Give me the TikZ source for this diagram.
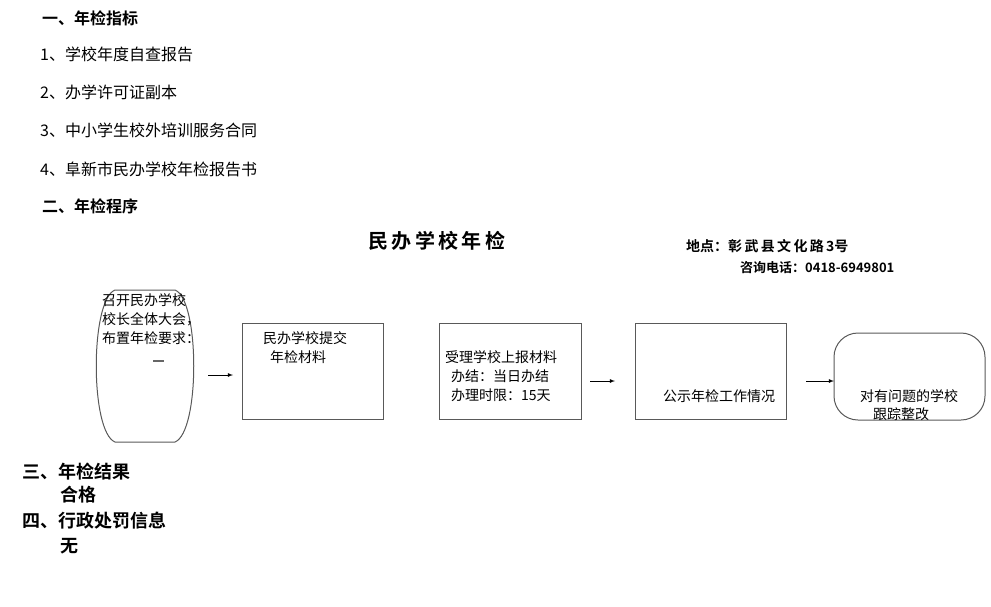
\documentclass[tikz,border=0pt]{standalone}
\usepackage{fontspec}
\setmainfont{Noto Sans CJK SC}
\newfontfamily\cjkb{Noto Sans CJK SC Bold}
\begin{document}
\begin{tikzpicture}[x=1pt,y=-1pt,
  t/.style={anchor=west,inner sep=0pt,font=\fontsize{16}{18}\selectfont},
  h/.style={anchor=west,inner sep=0pt,font=\cjkb\fontsize{16}{18}\selectfont},
  bt/.style={anchor=north west,inner sep=0pt,align=left,font=\fontsize{14}{19}\selectfont},
  bx/.style={draw=black!65,line width=1pt},
  arr/.style={-latex,line width=0.8pt}]
\useasboundingbox (0,0) rectangle (991,606);
\node[h] (h1) at (42,18) {一、年检指标};
\node[t] (l1) at (40,54) {1、学校年度自查报告};
\node[t] (l2) at (40,92) {2、办学许可证副本};
\node[t] (l3) at (40,130) {3、中小学生校外培训服务合同};
\node[t] (l4) at (40,169) {4、阜新市民办学校年检报告书};
\node[h] (h2) at (42,206) {二、年检程序};
\node[h,anchor=center,font=\cjkb\fontsize{20}{22}\selectfont] (title) at (437,241) {民\,办\,学\,校\,年\,检};
\node[h,font=\cjkb\fontsize{14}{16}\selectfont] (addr) at (686,246) {地点：彰\,武\,县\,文\,化\,路\,3号};
\node[h,font=\cjkb\fontsize{13}{16}\selectfont] (tel) at (740,268) {咨询电话：0418-6949801};
% box1 barrel
\draw[bx] (115,290) -- (175,290) .. controls (200,300) and (200,432) .. (175,442) -- (115,442) .. controls (90,432) and (90,300) .. (115,290);
\node[bt] (b1) at (102,293) {召开民办学校\\校长全体大会，\\布置年检要求：};
\node[draw=black!60,line width=0.6pt,minimum width=10pt,inner sep=0pt] (dash1) at (158,361) {};
% boxes
\node[bx,minimum width=141pt,minimum height=96pt,inner sep=0pt,anchor=north west] (b2) at (242,323) {};
\node[bt] (b2t) at (263,331) {民办学校提交\\\hspace*{7pt}年检材料};
\node[bx,minimum width=142pt,minimum height=96pt,inner sep=0pt,anchor=north west] (b3) at (439,323) {};
\node[bt] (b3t) at (445,350) {受理学校上报材料\\\hspace*{6pt}办结：当日办结\\\hspace*{6pt}办理时限：15天};
\node[bx,minimum width=151pt,minimum height=96pt,inner sep=0pt,anchor=north west] (b4) at (635,323) {};
\node[t,font=\fontsize{14}{19}\selectfont] (b4t) at (663,396) {公示年检工作情况};
\draw[bx,rounded corners=24pt] (834,333) rectangle (985,420);
\coordinate (b5w) at (834,381);
\node[t,font=\fontsize{14}{19}\selectfont] (b5a) at (860,396) {对有问题的学校};
\node[t,font=\fontsize{14}{19}\selectfont] (b5b) at (873,414) {跟踪整改};
% arrows
\coordinate (a1s) at (208,375); \coordinate (a1e) at (233,375);
\draw[arr] (a1s) -- (a1e);
\coordinate (a2s) at (590,381); \coordinate (a2e) at (615,381);
\draw[arr] (a2s) -- (a2e);
\coordinate (a3s) at (806,381);
\draw[arr] (a3s) -- (b5w);
% bottom
\node[h,font=\cjkb\fontsize{18}{20}\selectfont] (r1) at (22,472) {三、年检结果};
\node[h,font=\cjkb\fontsize{18}{20}\selectfont] (r2) at (60,495) {合格};
\node[h,font=\cjkb\fontsize{18}{20}\selectfont] (r3) at (22,521) {四、行政处罚信息};
\node[h,font=\cjkb\fontsize{18}{20}\selectfont] (r4) at (60,546) {无};
\end{tikzpicture}
\end{document}
